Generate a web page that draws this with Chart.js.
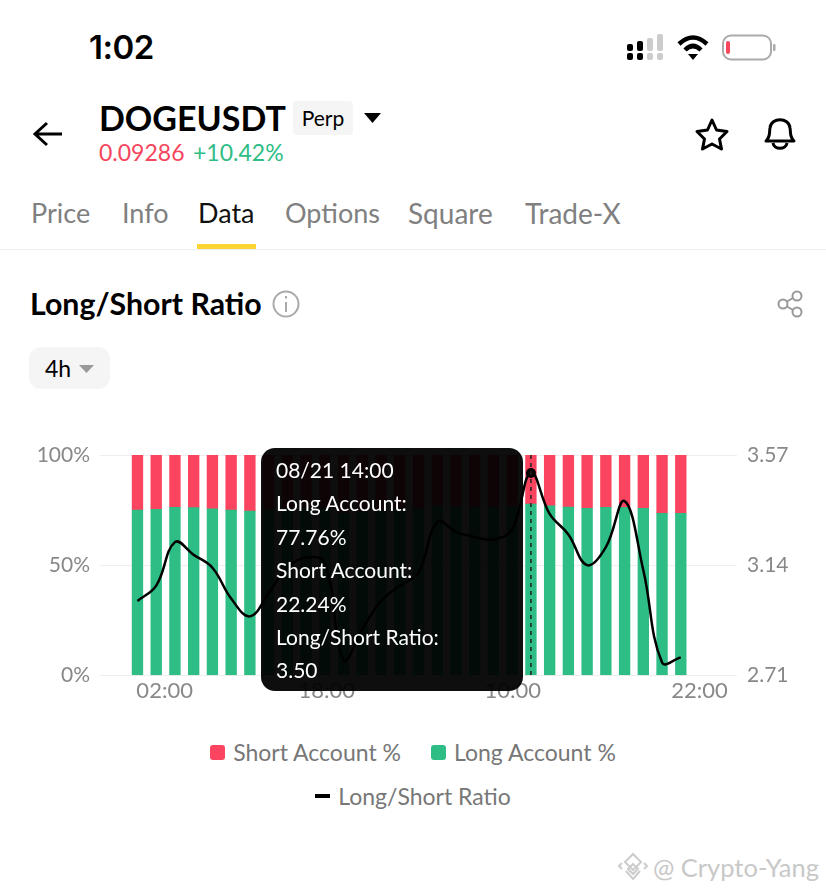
<!DOCTYPE html>
<html>
<head>
<meta charset="utf-8">
<title>Long/Short Ratio</title>
<script src="https://cdn.jsdelivr.net/npm/chart.js@4"></script>
<style>
html, body { margin: 0; padding: 0; background: #fff; }
body { position: relative; width: 826px; height: 892px; overflow: hidden; font-family: Lato, sans-serif; color: #000; }
.abs { position: absolute; white-space: nowrap; line-height: 1; }
.tab { top: 199px; font-size: 27px; color: #808080; }
svg { position: absolute; overflow: visible; }
#chart-wrap { position: absolute; left: 0; top: 430px; width: 826px; height: 280px; }
#tip { position: absolute; box-sizing: border-box; left: 261px; top: 448px; width: 262px; height: 243px; padding: 5px 15px;
  background: rgba(0,0,0,0.945); border-radius: 14px; color: #fff; font-size: 21px; line-height: 33.4px; white-space: nowrap; }
#legend { position: absolute; left: 0; top: 730px; width: 826px; font-size: 23px; color: #777; text-align: center; }
#legend .row { height: 44px; line-height: 44px; display: flex; justify-content: center; align-items: center; }
#legend .item { display: flex; align-items: center; margin: 0 15px; }
#legend .sw { width: 15px; height: 15px; border-radius: 3px; margin-right: 8px; }
#legend .dash { width: 15px; height: 4px; margin-right: 8px; background: #000; }
</style>
</head>
<body>

<!-- status bar -->
<div class="abs" style="left:89px;top:27px;font:600 33px Inter,sans-serif;letter-spacing:-0.5px">1:02</div>
<svg style="left:0;top:0" width="826" height="70">
  <g fill="#000">
    <rect x="627" y="44" width="6" height="7" rx="2"/><rect x="627" y="53" width="6" height="7" rx="2"/>
    <rect x="637" y="41" width="6" height="10" rx="2"/><rect x="637" y="53" width="6" height="7" rx="2"/>
  </g>
  <g fill="#ccc">
    <rect x="647" y="38" width="6" height="13" rx="2"/><rect x="647" y="53" width="6" height="7" rx="2"/>
    <rect x="657" y="34" width="6" height="17" rx="2"/><rect x="657" y="53" width="6" height="7" rx="2"/>
  </g>
  <g fill="none" stroke="#000" stroke-width="4.5">
    <path d="M679 44 Q693 31 707 44"/>
    <path d="M685 50 Q693 42 701 50"/>
  </g>
  <path d="M688 54 L698 54 L693 60 Z" fill="#000"/>
  <rect x="723" y="35.500" width="48" height="24" rx="8" fill="none" stroke="#aaa" stroke-width="2"/>
  <rect x="726" y="41" width="4" height="13" rx="2" fill="#f6465d"/>
  <rect x="773" y="44" width="2.500" height="7" rx="1" fill="#aaa"/>
</svg>

<!-- header -->
<svg style="left:0;top:0" width="826" height="160">
  <path d="M62 134 H36 M47 123 L35 134 L47 145" fill="none" stroke="#000" stroke-width="3"/>
  <path d="M364 113 H381 L372.500 123 Z" fill="#000"/>
  <path d="M712 120 L716.500 130 L727 131.500 L719.500 139 L721.500 149 L712 144 L702.500 149 L704.500 139 L697 131.500 L707.500 130 Z" fill="none" stroke="#000" stroke-width="3" stroke-linejoin="round"/>
  <path d="M766 141 C771 136 769 132 770 128 C771 117 789 117 790 128 C791 132 789 136 794 141 Z" fill="none" stroke="#000" stroke-width="3" stroke-linejoin="round"/>
  <path d="M773 143 C774 150 786 150 787 143" fill="none" stroke="#000" stroke-width="3"/>
</svg>
<div class="abs" style="left:99px;top:101px;font-size:34px;font-weight:700">DOGEUSDT</div>
<div class="abs" style="left:293px;top:101px;width:60px;height:34px;line-height:34px;background:#f5f5f5;border-radius:4px;font-size:21px;text-align:center">Perp</div>
<div class="abs" style="left:99px;top:141px;font-size:23px;color:#f6465d">0.09286</div>
<div class="abs" style="left:193px;top:141px;font-size:23px;color:#2ebd85">+10.42%</div>

<!-- tabs -->
<div class="abs tab" style="left:31px">Price</div>
<div class="abs tab" style="left:122px">Info</div>
<div class="abs tab" style="left:198px;color:#111">Data</div>
<div class="abs tab" style="left:285px">Options</div>
<div class="abs tab" style="left:408px;font-size:28px">Square</div>
<div class="abs tab" style="left:525px;font-size:28px">Trade-X</div>
<div class="abs" style="left:0;top:249px;width:826px;height:1px;background:#eee"></div>
<div class="abs" style="left:197px;top:244px;width:59px;height:5px;background:#fcd535"></div>

<!-- section title -->
<div class="abs" style="left:30px;top:288px;font-size:30.300px;font-weight:700">Long/Short Ratio</div>
<svg style="left:0;top:280px" width="826" height="50">
  <circle cx="286" cy="24" r="12.500" fill="none" stroke="#aaa" stroke-width="2"/>
  <path d="M286 22 V32 M286 16 V18.500" stroke="#aaa" stroke-width="2" fill="none"/>
  <g fill="none" stroke="#999" stroke-width="2">
    <circle cx="797" cy="16" r="4.500"/><circle cx="797" cy="32" r="4.500"/><circle cx="783" cy="24" r="4.500"/>
    <path d="M787 21.500 L793 18 M787 26.500 L793 30"/>
  </g>
</svg>
<div class="abs" style="left:29px;top:347px;width:81px;height:42px;background:#f5f5f5;border-radius:12px"></div>
<div class="abs" style="left:45px;top:357px;font-size:23px">4h</div>
<svg style="left:0;top:340px" width="120" height="50"><path d="M79 25 H94 L86.500 33 Z" fill="#999"/></svg>

<div id="chart-wrap"><canvas id="chart"></canvas></div>
<div id="tip"></div>
<div id="legend"></div>

<!-- watermark -->
<svg style="left:618px;top:852px" width="32" height="30">
  <g fill="none" stroke="#ccc" stroke-width="2">
    <path d="M15 2 L23 10 L15 18 L7 10 Z"/>
    <path d="M15 12 L20 17 L15 22 L10 17 Z"/>
    <path d="M8 19 L15 27 L22 19"/>
    <path d="M4 11 L1 14 L4 17 M26 11 L29 14 L26 17"/>
  </g>
</svg>
<div class="abs" style="left:653px;top:855px;font-size:25.500px;color:#c8c8c8">@ Crypto-Yang</div>

<script>
// Chart data, one entry per 4h bar
const shortLabel = 'Short Account %';
const longLabel = 'Long Account %';
const ratioLabel = 'Long/Short Ratio';

const longAccount = [75.0, 75.3, 76.2, 76.1, 75.6, 75.0, 74.6, 75.2, 75.8, 76.0,
    75.9, 73.5, 74.3, 75.0, 75.4, 75.7, 76.8, 76.6, 76.5, 76.4,
    76.6, 77.76, 76.9, 76.4, 75.8, 76.2, 76.2, 75.8, 73.5, 73.5];
const shortAccount = [25.0, 24.7, 23.8, 23.9, 24.4, 25.0, 25.4, 24.8, 24.2, 24.0,
    24.1, 26.5, 25.7, 25.0, 24.6, 24.3, 23.2, 23.4, 23.5, 23.6,
    23.4, 22.24, 23.1, 23.6, 24.2, 23.8, 23.8, 24.2, 26.5, 26.5];
const ratio = [3.00, 3.06, 3.23, 3.18, 3.13, 3.01, 2.94, 3.03, 3.13, 3.17,
    3.15, 2.77, 2.89, 3.00, 3.06, 3.11, 3.31, 3.27, 3.25, 3.24,
    3.28, 3.50, 3.34, 3.26, 3.14, 3.21, 3.39, 3.12, 2.76, 2.78];

const xTickLabels = ['02:00', '18:00', '10:00', '22:00'];
const xTickSlots = [1.45, 10.1, 20.03, 30];
const leftTicks = [0, 50, 100];
const rightTicks = [2.71, 3.14, 3.57];

const activeIndex = 21;
const activeTime = '08/21 14:00';

const RED = '#fb4560';
const GREEN = '#2ebd85';

const toPoints = arr => arr.map((v, i) => ({ x: i, y: v }));

// Dashed line at the hovered bar
const crosshair = {
    id: 'crosshair',
    afterDatasetsDraw(chart) {
        const { ctx, chartArea, scales } = chart;
        const x = scales.x.getPixelForValue(activeIndex);
        ctx.save();
        ctx.strokeStyle = '#222';
        ctx.lineWidth = 1.5;
        ctx.setLineDash([4, 4]);
        ctx.beginPath();
        ctx.moveTo(x, chartArea.top);
        ctx.lineTo(x, chartArea.bottom);
        ctx.stroke();
        ctx.restore();
    }
};

// HTML tooltip, it is wider than the canvas one would be
function renderTooltip({ tooltip }) {
    const el = document.getElementById('tip');
    const idx = tooltip.dataPoints ? tooltip.dataPoints[0].dataIndex : activeIndex;
    const lines = [
        activeTime,
        'Long Account:', longAccount[idx].toFixed(2) + '%',
        'Short Account:', shortAccount[idx].toFixed(2) + '%',
        'Long/Short Ratio:', ratio[idx].toFixed(2)
    ];
    el.innerHTML = lines.map(l => `<div>${l}</div>`).join('');
}

const tickFont = { family: 'Lato', size: 22 };
const sideFont = { family: 'Lato', size: 21 };

const chart = new Chart(document.getElementById('chart'), {
    type: 'bar',
    plugins: [crosshair],
    data: {
        datasets: [
            { label: shortLabel, data: toPoints(shortAccount), backgroundColor: RED, stack: 'acc', barThickness: 10.7, order: 2, yAxisID: 'y' },
            { label: longLabel, data: toPoints(longAccount), backgroundColor: GREEN, stack: 'acc', barThickness: 10.7, order: 1, yAxisID: 'y' },
            {
                type: 'line', label: ratioLabel, data: toPoints(ratio), borderColor: '#000', borderWidth: 2.5,
                tension: 0.4, order: 0, yAxisID: 'y1', pointBackgroundColor: '#000', pointBorderWidth: 0,
                pointRadius: c => c.dataIndex === activeIndex ? 5 : 0
            }
        ]
    },
    options: {
        responsive: true,
        maintainAspectRatio: false,
        animation: false,
        events: [],
        layout: { padding: { top: 25 } },
        plugins: {
            legend: { display: false },
            tooltip: { enabled: false, external: renderTooltip }
        },
        scales: {
            x: {
                type: 'linear', min: -2, max: 32, offset: false,
                grid: { display: false, drawTicks: false }, border: { display: false },
                afterBuildTicks: s => { s.ticks = xTickSlots.map(v => ({ value: v })); },
                afterFit: s => { s.height = 34.7; },
                ticks: {
                    autoSkip: false, maxRotation: 0, color: '#888', font: tickFont, padding: 2,
                    callback: (v, i) => xTickLabels[i]
                }
            },
            y: {
                position: 'left', stacked: true, min: 0, max: 100,
                grid: { color: '#eee', drawTicks: false }, border: { display: false },
                afterBuildTicks: s => { s.ticks = leftTicks.map(v => ({ value: v })); },
                afterFit: s => { s.width = 100; },
                ticks: { color: '#888', font: sideFont, padding: 10, callback: v => v + '%' }
            },
            y1: {
                position: 'right', min: rightTicks[0], max: rightTicks[2],
                grid: { display: false, drawTicks: false }, border: { display: false },
                afterBuildTicks: s => { s.ticks = rightTicks.map(v => ({ value: v })); },
                afterFit: s => { s.width = 89; },
                ticks: { color: '#888', font: sideFont, padding: 10, callback: v => v.toFixed(2) }
            }
        }
    }
});

// Legend, wraps to two rows like the app does
function renderLegend() {
    const ds = chart.data.datasets;
    document.getElementById('legend').innerHTML = `
        <div class="row">
            <div class="item"><span class="sw" style="background:${ds[0].backgroundColor}"></span>${ds[0].label}</div>
            <div class="item"><span class="sw" style="background:${ds[1].backgroundColor}"></span>${ds[1].label}</div>
        </div>
        <div class="row">
            <div class="item"><span class="dash"></span>${ds[2].label}</div>
        </div>`;
}
renderLegend();

const activePoint = chart.getDatasetMeta(2).data[activeIndex];
chart.tooltip.setActiveElements([{ datasetIndex: 2, index: activeIndex }], { x: activePoint.x, y: activePoint.y });
chart.update();
</script>
</body>
</html>
